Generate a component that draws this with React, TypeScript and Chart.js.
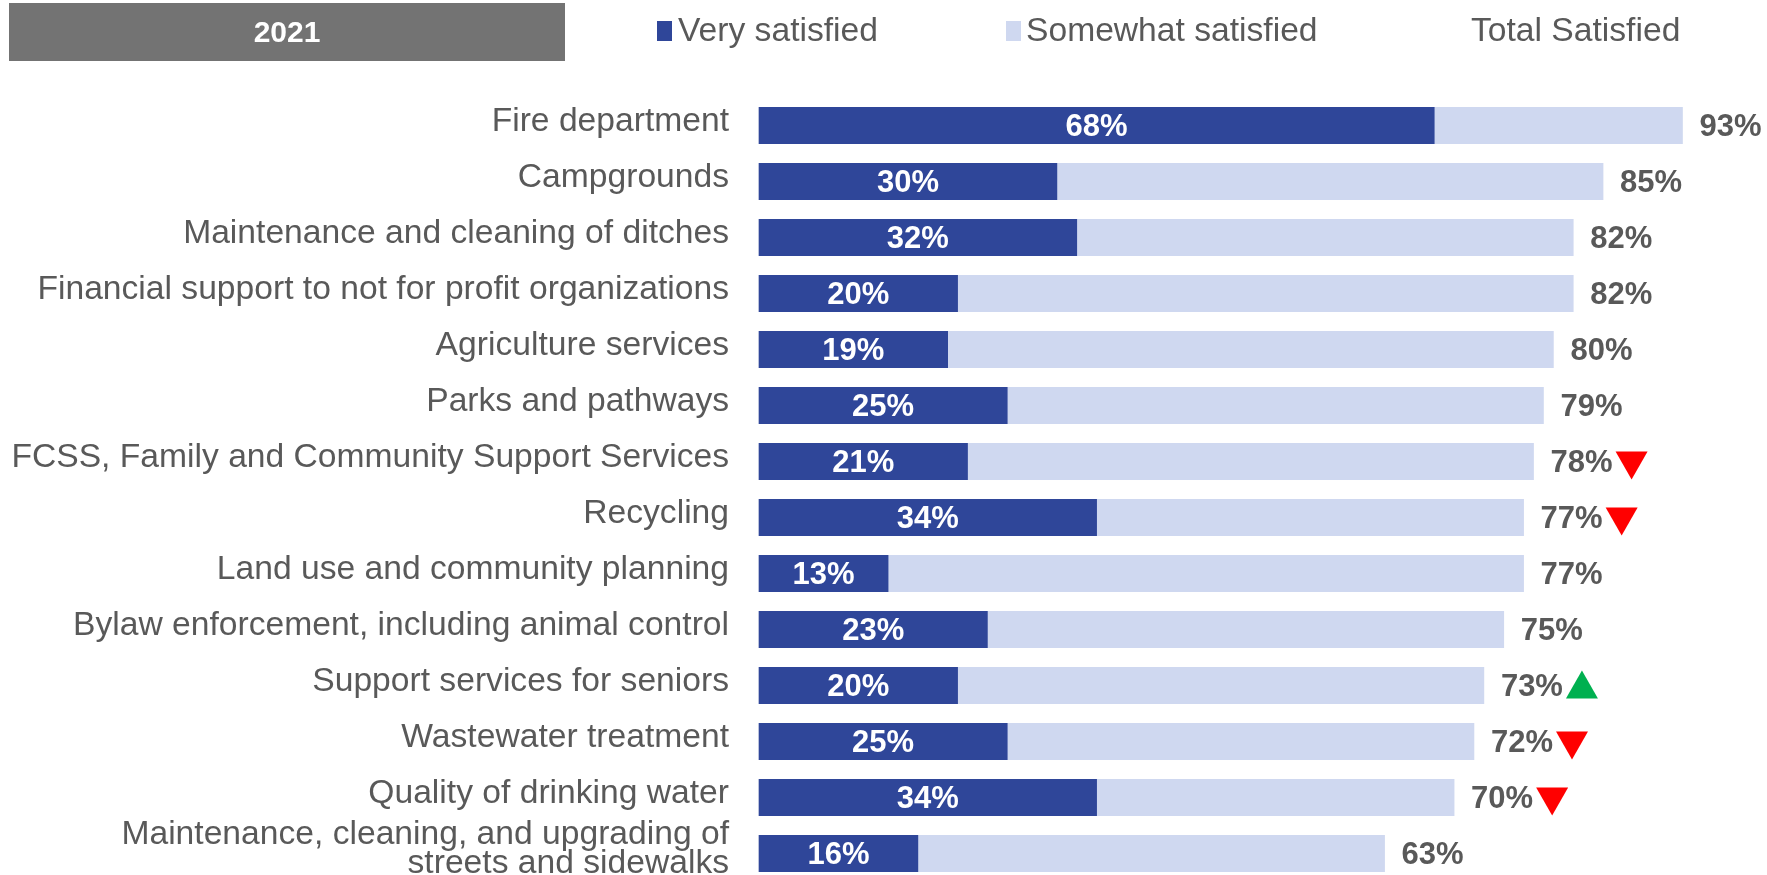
import React, { useEffect, useRef } from "react";
import { Chart, registerables } from "chart.js";

Chart.register(...registerables);

const categories: (string | string[])[] = [
  "Fire department",
  "Campgrounds",
  "Maintenance and cleaning of ditches",
  "Financial support to not for profit organizations",
  "Agriculture services",
  "Parks and pathways",
  "FCSS, Family and Community Support Services",
  "Recycling",
  "Land use and community planning",
  "Bylaw enforcement, including animal control",
  "Support services for seniors",
  "Wastewater treatment",
  "Quality of drinking water",
  ["Maintenance, cleaning, and upgrading of", "streets and sidewalks"],
];
const verySatisfied = [68, 30, 32, 20, 19, 25, 21, 34, 13, 23, 20, 25, 34, 16];
const somewhatSatisfied = [25, 55, 50, 62, 61, 54, 57, 43, 64, 52, 53, 47, 36, 47];
const totalSatisfied = [93, 85, 82, 82, 80, 79, 78, 77, 77, 75, 73, 72, 70, 63];
const trend = ["", "", "", "", "", "", "down", "down", "", "", "up", "down", "down", ""];
const seriesLabels = ["Very satisfied", "Somewhat satisfied", "Total Satisfied"];
const yearLabel = "2021";

const DARK = "#2f4699";
const LIGHT = "#cfd8f0";
const GREY = "#595959";
const LABEL_FAMILY = "'Liberation Sans', Arial, sans-serif";
const BOLD_FAMILY = "'Liberation Sans', Arial, sans-serif";

function fitSize(texts: string[], target: number, family: string): number {
  const c = document.createElement("canvas").getContext("2d")!;
  c.font = `100px ${family}`;
  const w = Math.max(...texts.map((t) => c.measureText(t).width));
  return (100 * target) / w;
}

export default function App() {
  const ref = useRef<HTMLCanvasElement | null>(null);

  useEffect(() => {
    const canvas = ref.current;
    if (!canvas) return;
    const labelSize = fitSize(
      [
        "Financial support to not for profit organizations",
        "FCSS, Family and Community Support Services",
      ],
      718,
      LABEL_FAMILY
    );

    const overlay = {
      id: "overlay",
      afterDatasetsDraw(chart: any) {
        const ctx: CanvasRenderingContext2D = chart.ctx;
        const m0 = chart.getDatasetMeta(0);
        const m1 = chart.getDatasetMeta(1);
        ctx.save();
        ctx.textBaseline = "middle";
        ctx.font = `bold 31px ${BOLD_FAMILY}`;
        m0.data.forEach((bar: any, i: number) => {
          const p = bar.getProps(["x", "y", "base"], true);
          ctx.fillStyle = "#ffffff";
          ctx.textAlign = "center";
          ctx.fillText(verySatisfied[i] + "%", (p.x + p.base) / 2, p.y + 2);
        });
        m1.data.forEach((bar: any, i: number) => {
          const p = bar.getProps(["x", "y"], true);
          const t = totalSatisfied[i] + "%";
          const tx = p.x + 17;
          ctx.fillStyle = GREY;
          ctx.textAlign = "left";
          ctx.fillText(t, tx, p.y + 2);
          const w = ctx.measureText(t).width;
          const cx = tx + w + 3 + 16;
          if (trend[i] === "down") {
            ctx.fillStyle = "#ff0000";
            ctx.beginPath();
            ctx.moveTo(cx - 16, p.y - 10);
            ctx.lineTo(cx + 16, p.y - 10);
            ctx.lineTo(cx, p.y + 18);
            ctx.closePath();
            ctx.fill();
          } else if (trend[i] === "up") {
            ctx.fillStyle = "#00b050";
            ctx.beginPath();
            ctx.moveTo(cx - 16, p.y + 13);
            ctx.lineTo(cx + 16, p.y + 13);
            ctx.lineTo(cx, p.y - 15);
            ctx.closePath();
            ctx.fill();
          }
        });
        ctx.restore();
      },
      afterDraw(chart: any) {
        const ctx: CanvasRenderingContext2D = chart.ctx;
        ctx.save();
        // year header
        ctx.fillStyle = "#737373";
        ctx.fillRect(9, 3, 556, 58);
        ctx.fillStyle = "#ffffff";
        ctx.font = `bold 30px ${BOLD_FAMILY}`;
        ctx.textAlign = "center";
        ctx.textBaseline = "middle";
        ctx.fillText(yearLabel, 287, 34);
        // legend
        ctx.textAlign = "left";
        ctx.font = `${labelSize}px ${LABEL_FAMILY}`;
        ctx.fillStyle = DARK;
        ctx.fillRect(657, 21, 15, 20);
        ctx.fillStyle = GREY;
        ctx.fillText(seriesLabels[0], 678, 32);
        ctx.fillStyle = LIGHT;
        ctx.fillRect(1006, 21, 15, 20);
        ctx.fillStyle = GREY;
        ctx.fillText(seriesLabels[1], 1026, 32);
        ctx.fillText(seriesLabels[2], 1471, 32);
        ctx.restore();
      },
    };

    const chart = new Chart(canvas, {
      type: "bar",
      data: {
        labels: categories as any,
        datasets: [
          {
            label: seriesLabels[0],
            data: verySatisfied,
            backgroundColor: DARK,
            barThickness: 36.4,
            clip: false as any,
          },
          {
            label: seriesLabels[1],
            data: somewhatSatisfied,
            backgroundColor: LIGHT,
            barThickness: 36.4,
            clip: false as any,
          },
        ],
      },
      options: {
        indexAxis: "y",
        animation: false,
        responsive: false,
        layout: { padding: { top: 125.5, bottom: 21.5, right: 15, left: 0 } },
        scales: {
          x: { stacked: true, min: 0, max: 100, display: false },
          y: {
            stacked: true,
            offset: false,
            grid: { display: false },
            border: { display: false },
            ticks: {
              autoSkip: false,
              padding: 22,
              color: GREY,
              labelOffset: -4,
              font: { family: LABEL_FAMILY, size: labelSize, lineHeight: 0.87 },
            },
            afterFit: (s: any) => {
              s.width = 759;
              s.paddingTop = 0;
              s.paddingBottom = 0;
            },
          },
        },
        plugins: {
          legend: { display: false },
          tooltip: { enabled: false },
        },
      },
      plugins: [overlay],
    });
    return () => chart.destroy();
  }, []);

  return (
    <div style={{ position: "absolute", left: 0, top: 0, width: 1767, height: 875 }}>
      <canvas ref={ref} width={1767} height={875} style={{ display: "block" }} />
    </div>
  );
}
